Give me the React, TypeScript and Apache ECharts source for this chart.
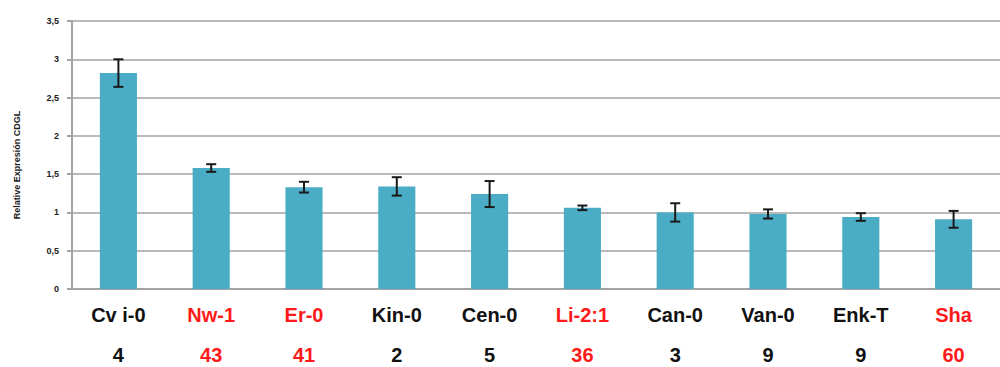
import React, { useEffect, useRef } from "react";
import * as echarts from "echarts";

// Accession names along the x axis, with the count shown under each one
const categories = ["Cv i-0", "Nw-1", "Er-0", "Kin-0", "Cen-0", "Li-2:1", "Can-0", "Van-0", "Enk-T", "Sha"];
const counts = ["4", "43", "41", "2", "5", "36", "3", "9", "9", "60"];
// Accessions printed in red
const highlighted = [false, true, true, false, false, true, false, false, false, true];

// Relative expression and its error (± half-range)
const expression = [2.82, 1.58, 1.33, 1.34, 1.24, 1.06, 1.0, 0.98, 0.94, 0.91];
const errors = [0.18, 0.05, 0.07, 0.12, 0.17, 0.03, 0.12, 0.06, 0.05, 0.11];

const yMin = 0;
const yMax = 3.5;
const yStep = 0.5;

const GRID_COLOR = "#a3a3a3";
const BAR_COLOR = "#4bacc6";
const FONT = "'Liberation Sans', Arial, sans-serif";

export default function App() {
  const ref = useRef<HTMLDivElement>(null);

  useEffect(() => {
    if (!ref.current) return;
    const chart = echarts.init(ref.current, undefined, { renderer: "svg" });

    const errorData = expression.map((v, i) => [i, v - errors[i], v + errors[i]]);

    chart.setOption({
      animation: false,
      backgroundColor: "#ffffff",
      grid: { left: 72, top: 21, width: 938, height: 268 },
      xAxis: {
        type: "category",
        data: categories,
        axisLine: { lineStyle: { color: GRID_COLOR, width: 2 } },
        axisTick: { show: false },
        axisLabel: {
          interval: 0,
          margin: 6,
          formatter: (value: string, idx: number) => {
            const key = highlighted[idx] ? "r" : "k";
            return `{${key}|${value}}\n{${key}|${counts[idx]}}`;
          },
          rich: {
            k: { color: "#111111", fontFamily: FONT, fontWeight: "bold", fontSize: 20, lineHeight: 40 },
            r: { color: "#ff1a1a", fontFamily: FONT, fontWeight: "bold", fontSize: 20, lineHeight: 40 },
          },
        },
      },
      yAxis: {
        type: "value",
        min: yMin,
        max: yMax,
        interval: yStep,
        axisLine: { show: true, lineStyle: { color: GRID_COLOR, width: 2 } },
        axisTick: { show: true, length: 5, lineStyle: { color: GRID_COLOR, width: 2 } },
        splitLine: { show: true, lineStyle: { color: GRID_COLOR, width: 1.5 } },
        axisLabel: {
          margin: 13,
          color: "#222222",
          fontFamily: FONT,
          fontWeight: "bold",
          fontSize: 9,
          formatter: (v: number) => String(v).replace(".", ","),
        },
      },
      graphic: [
        {
          type: "text",
          x: 17,
          y: 165,
          rotation: Math.PI / 2,
          style: {
            text: "Relative Expresión CDGL",
            fill: "#222222",
            font: `bold 9px ${FONT}`,
            align: "center",
            verticalAlign: "middle",
          },
        },
      ],
      series: [
        {
          type: "bar",
          data: expression,
          barWidth: "40%",
          itemStyle: { color: BAR_COLOR },
        },
        {
          type: "custom",
          data: errorData,
          z: 10,
          renderItem: (params: any, api: any) => {
            const x = api.value(0);
            const low = api.coord([x, api.value(1)]);
            const high = api.coord([x, api.value(2)]);
            const half = 5;
            const style = { stroke: "#1a1a1a", lineWidth: 2 };
            return {
              type: "group",
              children: [
                { type: "line", shape: { x1: high[0], y1: high[1], x2: low[0], y2: low[1] }, style },
                { type: "line", shape: { x1: high[0] - half, y1: high[1], x2: high[0] + half, y2: high[1] }, style },
                { type: "line", shape: { x1: low[0] - half, y1: low[1], x2: low[0] + half, y2: low[1] }, style },
              ],
            };
          },
        },
      ],
    });

    return () => chart.dispose();
  }, []);

  return (
    <div
      ref={ref}
      style={{ position: "fixed", left: 0, top: 0, width: 1000, height: 367, background: "#fff" }}
    />
  );
}
